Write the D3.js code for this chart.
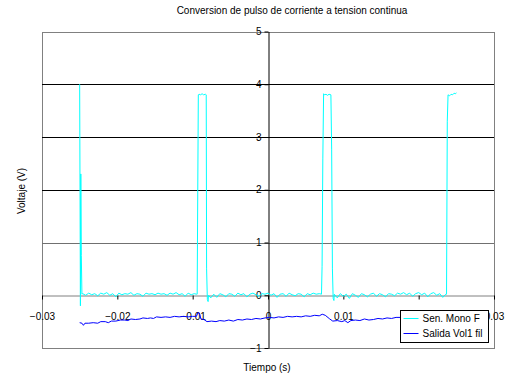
<!DOCTYPE html>
<html>
<head>
<meta charset="utf-8">
<script src="https://cdn.jsdelivr.net/npm/d3@7"></script>
<style>
  body { margin: 0; background: #fff; }
  text { font-family: "Liberation Sans", Arial, sans-serif; fill: #000; }
</style>
</head>
<body>
<div id="chart"></div>
<script>
// --- Data
const title = "Conversion de pulso de corriente a tension continua";
const xLabel = "Tiempo (s)";
const yLabel = "Voltaje (V)";
const xTicks = [-0.03, -0.02, -0.01, 0, 0.01, 0.02, 0.03];
const yTicks = [-1, 0, 1, 2, 3, 4, 5];
const seriesNames = ["Sen. Mono F", "Salida Vol1 fil"];
const seriesColors = ["#00ffff", "#0000ff"];

// [tiempo, voltaje]
const senMono = [
  [-0.02500, 4.00], [-0.02490, -0.20], [-0.02485, 2.30], [-0.02478, 0.75], [-0.02470, 0.02],
  [-0.0246, 0.03], [-0.0242, 0.00], [-0.0238, 0.04], [-0.0234, 0.01], [-0.0230, 0.03],
  [-0.0226, -0.01], [-0.0222, 0.04], [-0.0218, 0.02], [-0.0214, 0.05], [-0.0210, 0.00],
  [-0.0206, 0.03], [-0.0202, -0.03], [-0.0198, 0.04], [-0.0194, 0.01], [-0.0190, 0.03],
  [-0.0186, 0.02], [-0.0182, 0.05], [-0.0178, 0.00], [-0.0174, 0.03], [-0.0170, 0.02],
  [-0.0166, -0.02], [-0.0162, 0.04], [-0.0158, 0.02], [-0.0154, 0.03], [-0.0150, 0.01],
  [-0.0146, 0.04], [-0.0142, 0.02], [-0.0138, 0.03], [-0.0134, 0.00], [-0.0130, 0.04],
  [-0.0126, 0.02], [-0.0122, 0.05], [-0.0118, 0.01], [-0.0114, 0.03], [-0.0110, -0.02],
  [-0.0106, 0.04], [-0.0102, 0.01], [-0.0098, 0.03], [-0.0095, 0.02],
  [-0.00940, 0.02], [-0.00935, 1.35], [-0.00925, 3.80], [-0.00915, 3.81], [-0.00895, 3.80],
  [-0.00875, 3.82], [-0.00855, 3.80], [-0.00830, 3.81], [-0.00820, 3.80], [-0.00815, 0.50],
  [-0.00805, -0.08], [-0.00795, -0.12], [-0.00790, 0.00],
  [-0.0076, -0.05], [-0.0072, 0.02], [-0.0068, -0.04], [-0.0064, 0.03], [-0.0060, 0.01],
  [-0.0056, -0.03], [-0.0052, 0.03], [-0.0048, 0.02], [-0.0044, -0.02], [-0.0040, 0.04],
  [-0.0036, 0.01], [-0.0032, 0.03], [-0.0028, -0.03], [-0.0024, 0.02], [-0.0020, 0.04],
  [-0.0016, 0.01], [-0.0012, -0.02], [-0.0008, 0.03], [-0.0004, 0.02], [0.0000, 0.04],
  [0.0004, 0.00], [0.0008, 0.03], [0.0012, -0.04], [0.0016, 0.02], [0.0020, 0.03],
  [0.0024, -0.02], [0.0028, 0.04], [0.0032, 0.01], [0.0036, -0.01], [0.0040, 0.03],
  [0.0044, 0.02], [0.0048, -0.03], [0.0052, 0.03], [0.0056, 0.01], [0.0060, 0.04],
  [0.0064, 0.02], [0.0068, 0.03], [0.0071, 0.02],
  [0.00718, 0.55], [0.00728, 2.60], [0.00738, 3.82], [0.00750, 3.80], [0.00770, 3.81],
  [0.00790, 3.79], [0.00810, 3.81], [0.00835, 3.80], [0.00845, 2.77], [0.00855, 0.50],
  [0.00865, -0.06], [0.00875, -0.10],
  [0.0088, 0.02], [0.0092, -0.05], [0.0096, 0.03], [0.0100, -0.02], [0.0104, 0.02],
  [0.0108, -0.06], [0.0112, 0.03], [0.0116, 0.00], [0.0120, -0.04], [0.0124, 0.03],
  [0.0128, 0.01], [0.0132, -0.03], [0.0136, 0.02], [0.0140, 0.04], [0.0144, -0.02],
  [0.0148, 0.03], [0.0152, 0.01], [0.0156, -0.03], [0.0160, 0.03], [0.0164, 0.02],
  [0.0168, -0.01], [0.0172, 0.04], [0.0176, 0.02], [0.0180, 0.05], [0.0184, 0.01],
  [0.0188, 0.04], [0.0192, -0.02], [0.0196, 0.03], [0.0200, 0.05], [0.0204, 0.01],
  [0.0208, 0.04], [0.0212, -0.03], [0.0216, 0.03], [0.0220, 0.05], [0.0224, 0.00],
  [0.0228, 0.03], [0.0232, -0.04], [0.0236, 0.02],
  [0.02370, 0.02], [0.02380, 3.30], [0.02390, 3.80], [0.02410, 3.78], [0.02430, 3.81],
  [0.02450, 3.80], [0.02470, 3.83], [0.02490, 3.82], [0.02500, 3.84]
];

const salidaVol = [
  [-0.0250, -0.52], [-0.0247, -0.53], [-0.0245, -0.57], [-0.0243, -0.53], [-0.0238, -0.53],
  [-0.0232, -0.52], [-0.0226, -0.53], [-0.0222, -0.50], [-0.0216, -0.50], [-0.0212, -0.52],
  [-0.0208, -0.49], [-0.0202, -0.49], [-0.0196, -0.47], [-0.0190, -0.47], [-0.0186, -0.48],
  [-0.0182, -0.45], [-0.0176, -0.46], [-0.0170, -0.45], [-0.0166, -0.43], [-0.0160, -0.44],
  [-0.0156, -0.43], [-0.0152, -0.44], [-0.0148, -0.41], [-0.0142, -0.42], [-0.0136, -0.41],
  [-0.0130, -0.42], [-0.0124, -0.40], [-0.0118, -0.41], [-0.0112, -0.40], [-0.0106, -0.41],
  [-0.0100, -0.40], [-0.0095, -0.40], [-0.0093, -0.33], [-0.0091, -0.34], [-0.0089, -0.45],
  [-0.0085, -0.46], [-0.0081, -0.50], [-0.0075, -0.49], [-0.0069, -0.50], [-0.0064, -0.48],
  [-0.0058, -0.49], [-0.0052, -0.47], [-0.0046, -0.49], [-0.0040, -0.46], [-0.0034, -0.47],
  [-0.0028, -0.45], [-0.0022, -0.46], [-0.0016, -0.44], [-0.0010, -0.45], [-0.0004, -0.43],
  [0.0002, -0.42], [0.0008, -0.43], [0.0014, -0.41], [0.0020, -0.42], [0.0026, -0.40],
  [0.0032, -0.41], [0.0038, -0.40], [0.0044, -0.41], [0.0050, -0.39], [0.0056, -0.40],
  [0.0062, -0.38], [0.0068, -0.39], [0.0072, -0.36], [0.0076, -0.38], [0.0082, -0.45],
  [0.0086, -0.49], [0.0092, -0.48], [0.0098, -0.50], [0.0102, -0.48], [0.0106, -0.52],
  [0.0110, -0.48], [0.0116, -0.47], [0.0122, -0.48], [0.0128, -0.45], [0.0134, -0.47],
  [0.0140, -0.46], [0.0146, -0.44], [0.0152, -0.45], [0.0158, -0.43], [0.0164, -0.44],
  [0.0170, -0.42], [0.0176, -0.42], [0.0182, -0.41], [0.0190, -0.41], [0.0200, -0.40],
  [0.0210, -0.39], [0.0220, -0.39], [0.0230, -0.38], [0.0238, -0.38], [0.0240, -0.33],
  [0.0245, -0.35], [0.0250, -0.35]
];

// --- Layout
const width = 505;
const height = 378;
const plot = { left: 42, right: 494, top: 31.5, bottom: 348 };

const svg = d3.select("#chart")
  .append("svg")
  .attr("width", width)
  .attr("height", height)
  .attr("viewBox", [0, 0, width, height]);

const x = d3.scaleLinear()
  .domain([-0.03, 0.03])
  .range([plot.left, plot.right]);

const y = d3.scaleLinear()
  .domain([-1, 5])
  .range([plot.bottom, plot.top]);

// plot frame
svg.append("rect")
  .attr("x", plot.left + 0.5)
  .attr("y", Math.round(plot.top) + 0.5)
  .attr("width", plot.right - plot.left)
  .attr("height", plot.bottom - Math.round(plot.top))
  .attr("fill", "none")
  .attr("stroke", "#808080");

// horizontal gridlines
svg.append("g")
  .selectAll("line")
  .data(yTicks.filter(d => d > 0 && d < 5))
  .join("line")
  .attr("x1", plot.left)
  .attr("x2", plot.right)
  .attr("y1", d => Math.round(y(d)) + 0.5)
  .attr("y2", d => Math.round(y(d)) + 0.5)
  .attr("stroke", d => d === 1 ? "#707070" : "#000");

// x axis at y = 0
const xAxis = svg.append("g")
  .attr("transform", `translate(0, ${Math.round(y(0)) + 0.5})`)
  .call(d3.axisBottom(x)
    .tickValues(xTicks)
    .tickSize(4)
    .tickSizeOuter(0)
    .tickPadding(13)
    .tickFormat(d => d === 0 ? "0" : d3.format(".2f")(d)));
xAxis.select(".domain").attr("stroke", "#808080");
xAxis.selectAll(".tick line").attr("stroke", "#000");
xAxis.selectAll("text")
  .attr("font-size", 10)
  .attr("font-family", "Liberation Sans, Arial, sans-serif");

// y axis at x = 0
const yAxis = svg.append("g")
  .attr("transform", `translate(${Math.round(x(0)) + 0.5}, 0)`)
  .call(d3.axisLeft(y)
    .tickValues(yTicks)
    .tickSize(4)
    .tickSizeOuter(0)
    .tickPadding(3)
    .tickFormat(d3.format("d")));
yAxis.select(".domain").attr("stroke", "#000");
yAxis.selectAll("text")
  .attr("font-size", 10)
  .attr("font-family", "Liberation Sans, Arial, sans-serif");

// series
const line = d3.line()
  .x(d => x(d[0]))
  .y(d => y(d[1]));

[senMono, salidaVol].forEach((data, i) => {
  svg.append("path")
    .datum(data)
    .attr("fill", "none")
    .attr("stroke", seriesColors[i])
    .attr("stroke-width", 1)
    .attr("d", line);
});

// titles
svg.append("text")
  .attr("x", 292)
  .attr("y", 14)
  .attr("text-anchor", "middle")
  .attr("font-size", 10)
  .text(title);

svg.append("text")
  .attr("x", 267)
  .attr("y", 371)
  .attr("text-anchor", "middle")
  .attr("font-size", 10)
  .text(xLabel);

svg.append("text")
  .attr("transform", "translate(25, 191) rotate(-90)")
  .attr("text-anchor", "middle")
  .attr("font-size", 10)
  .text(yLabel);

// legend
const legend = svg.append("g").attr("transform", "translate(400.5, 310.5)");
legend.append("rect")
  .attr("width", 88)
  .attr("height", 32)
  .attr("fill", "#fff")
  .attr("stroke", "#000");

const entry = legend.selectAll(".entry")
  .data(seriesNames)
  .join("g")
  .attr("class", "entry")
  .attr("transform", (d, i) => `translate(0, ${8 + i * 15})`);

entry.append("line")
  .attr("x1", 3)
  .attr("x2", 18)
  .attr("stroke", (d, i) => seriesColors[i]);

entry.append("text")
  .attr("x", 22)
  .attr("dy", "0.35em")
  .attr("font-size", 10)
  .text(d => d);
</script>
</body>
</html>
